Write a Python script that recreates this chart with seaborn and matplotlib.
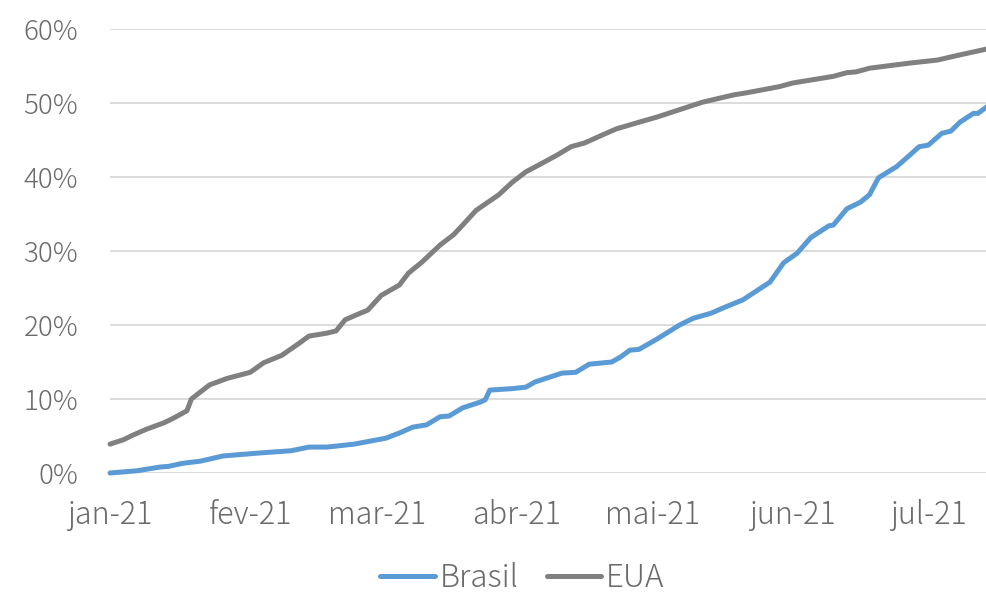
import pandas as pd
import matplotlib
matplotlib.use('Agg')
import matplotlib.pyplot as plt
import seaborn as sns

# dados (% da populacao)
eua_datas = ['2021-01-01', '2021-01-04', '2021-01-06', '2021-01-09', '2021-01-13', '2021-01-15',
             '2021-01-18', '2021-01-19', '2021-01-23', '2021-01-27', '2021-02-01', '2021-02-04',
             '2021-02-08', '2021-02-12', '2021-02-14', '2021-02-18', '2021-02-20', '2021-02-22',
             '2021-02-25', '2021-02-27', '2021-03-02', '2021-03-06', '2021-03-08', '2021-03-11',
             '2021-03-15', '2021-03-18', '2021-03-20', '2021-03-23', '2021-03-28', '2021-03-31',
             '2021-04-03', '2021-04-07', '2021-04-10', '2021-04-13', '2021-04-16', '2021-04-20',
             '2021-04-23', '2021-04-28', '2021-05-02', '2021-05-12', '2021-05-19', '2021-05-22',
             '2021-05-29', '2021-06-01', '2021-06-10', '2021-06-13', '2021-06-15', '2021-06-18',
             '2021-06-27', '2021-07-03', '2021-07-08', '2021-07-14']
eua_valores = [3.9, 4.5, 5.1, 5.9, 6.8, 7.4,
               8.4, 10.0, 11.9, 12.8, 13.6, 14.9,
               15.9, 17.6, 18.5, 18.9, 19.2, 20.7,
               21.5, 22.0, 24.0, 25.4, 27.0, 28.5,
               30.8, 32.2, 33.5, 35.5, 37.6, 39.3,
               40.7, 42.0, 43.0, 44.1, 44.6, 45.7,
               46.5, 47.4, 48.1, 50.1, 51.1, 51.4,
               52.2, 52.7, 53.6, 54.1, 54.2, 54.7,
               55.4, 55.8, 56.5, 57.3]

brasil_datas = ['2021-01-01', '2021-01-07', '2021-01-12', '2021-01-14', '2021-01-17', '2021-01-21',
                '2021-01-26', '2021-02-03', '2021-02-10', '2021-02-14', '2021-02-18', '2021-02-24',
                '2021-03-03', '2021-03-06', '2021-03-09', '2021-03-12', '2021-03-15', '2021-03-17',
                '2021-03-20', '2021-03-24', '2021-03-25', '2021-03-26', '2021-03-31', '2021-04-03',
                '2021-04-05', '2021-04-11', '2021-04-14', '2021-04-17', '2021-04-22', '2021-04-24',
                '2021-04-26', '2021-04-28', '2021-05-02', '2021-05-07', '2021-05-10', '2021-05-14',
                '2021-05-17', '2021-05-21', '2021-05-27', '2021-05-30', '2021-06-02', '2021-06-05',
                '2021-06-09', '2021-06-10', '2021-06-13', '2021-06-16', '2021-06-18', '2021-06-20',
                '2021-06-24', '2021-06-27', '2021-06-29', '2021-07-01', '2021-07-04', '2021-07-06',
                '2021-07-08', '2021-07-11', '2021-07-12', '2021-07-14']
brasil_valores = [0.0, 0.3, 0.8, 0.9, 1.3, 1.6,
                  2.3, 2.7, 3.0, 3.5, 3.5, 3.9,
                  4.7, 5.4, 6.2, 6.5, 7.6, 7.7,
                  8.8, 9.6, 9.9, 11.2, 11.4, 11.6,
                  12.3, 13.5, 13.6, 14.7, 15.0, 15.7,
                  16.6, 16.7, 18.1, 20.0, 20.9, 21.6,
                  22.4, 23.4, 25.8, 28.4, 29.7, 31.8,
                  33.4, 33.5, 35.7, 36.6, 37.6, 39.9,
                  41.4, 43.0, 44.1, 44.3, 45.9, 46.2,
                  47.4, 48.6, 48.6, 49.5]

meses = ['2021-01-01', '2021-02-01', '2021-03-01', '2021-04-01', '2021-05-01', '2021-06-01', '2021-07-01']
meses_labels = ['jan-21', 'fev-21', 'mar-21', 'abr-21', 'mai-21', 'jun-21', 'jul-21']
y_ticks = [0, 10, 20, 30, 40, 50, 60]

df = pd.concat([
    pd.DataFrame({'Data': pd.to_datetime(brasil_datas), 'Valor': brasil_valores, 'Pais': 'Brasil'}),
    pd.DataFrame({'Data': pd.to_datetime(eua_datas), 'Valor': eua_valores, 'Pais': 'EUA'}),
])

sns.set_style('white')
plt.rcParams['font.family'] = ['Noto Sans CJK JP', 'DejaVu Sans']
cor_texto = '#6b6b6b'

fig = plt.figure(figsize=(9.87, 5.93), dpi=100)
ax = fig.add_axes([0.1115, 0.2024, 0.8885, 0.7487])

sns.lineplot(data=df, x='Data', y='Valor', hue='Pais', palette={'Brasil': '#5B9BD5', 'EUA': '#808080'},
             linewidth=3.6, ax=ax, legend=True)
for l in ax.lines:
    l.set_solid_capstyle('round')
    l.set_clip_on(False)

ax.set_xlim(pd.Timestamp('2021-01-01'), pd.Timestamp('2021-07-14'))
ax.set_ylim(0, 60)
ax.set_yticks(y_ticks)
ax.set_yticklabels([f'{v}%' for v in y_ticks])
ax.set_xticks(pd.to_datetime(meses))
ax.set_xticklabels(meses_labels)
ax.grid(axis='y', color='#d9d9d9', linewidth=1.3)
ax.set_axisbelow(True)
for s in ax.spines.values():
    s.set_visible(False)
ax.tick_params(axis='y', length=0, pad=23, labelsize=20, labelcolor=cor_texto)
ax.tick_params(axis='x', length=0, pad=19, labelsize=22, labelcolor=cor_texto)
for t in ax.get_xticklabels() + ax.get_yticklabels():
    t.set_fontweight('light')
ax.set_xlabel('')
ax.set_ylabel('')

h, lab = ax.get_legend_handles_labels()
leg = ax.legend(h, lab, loc='lower center', bbox_to_anchor=(0.47, -0.3), ncol=2, frameon=False,
                fontsize=22.5, handlelength=1.75, handletextpad=0.15, columnspacing=0.9,
                borderaxespad=0)
for t in leg.get_texts():
    t.set_color(cor_texto)
    t.set_fontweight('light')
for lh in leg.get_lines():
    lh.set_linewidth(3.6)
    lh.set_solid_capstyle('round')

fig.savefig('out.png', dpi=100)
